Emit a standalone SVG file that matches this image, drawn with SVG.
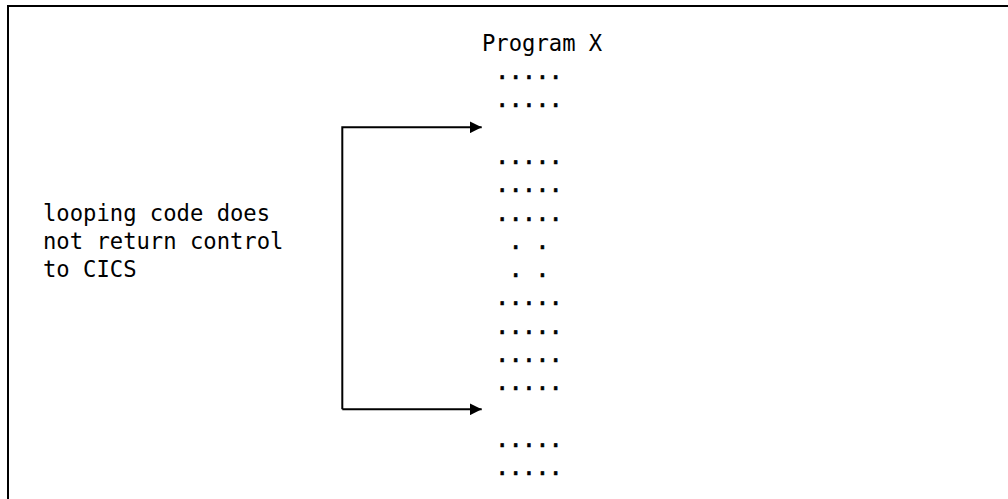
<svg xmlns="http://www.w3.org/2000/svg" width="1008" height="499" viewBox="0 0 1008 499">
<defs>
<style>
.t{font-family:"DejaVu Sans Mono","Liberation Mono",monospace;font-size:22.2px;fill:#000}
.d{stroke:#000;stroke-width:0.7}
.ln{stroke:#000;stroke-width:2;fill:none}
</style>
<marker id="ah" markerWidth="12" markerHeight="12" refX="12" refY="6" orient="auto" markerUnits="userSpaceOnUse">
<path d="M0,0 L12,6 L0,12 Z" fill="#000"/>
</marker>
</defs>
<rect width="1008" height="499" fill="#fff"/>
<g id="frame">
<path class="ln" d="M8,510 V6 H1010"/>
</g>
<g id="program">
<text class="t" x="482" y="50.7">Program X</text>
<text class="t d" x="495.6" y="79">.....</text>
<text class="t d" x="495.6" y="107.3">.....</text>
<text class="t d" x="495.6" y="163.9">.....</text>
<text class="t d" x="495.6" y="192.2">.....</text>
<text class="t d" x="495.6" y="220.5">.....</text>
<text class="t d" x="508.95" y="248.8">. .</text>
<text class="t d" x="508.95" y="277.1">. .</text>
<text class="t d" x="495.6" y="305.4">.....</text>
<text class="t d" x="495.6" y="333.7">.....</text>
<text class="t d" x="495.6" y="362">.....</text>
<text class="t d" x="495.6" y="390.3">.....</text>
<text class="t d" x="495.6" y="446.9">.....</text>
<text class="t d" x="495.6" y="475.2">.....</text>
</g>
<g id="note">
<text class="t" x="43" y="220.5">looping code does</text>
<text class="t" x="43" y="248.8">not return control</text>
<text class="t" x="43" y="277.1">to CICS</text>
</g>
<g id="connectors">
<path class="ln" d="M342.3,409.3 V127.3 H481.7" marker-end="url(#ah)"/>
<path class="ln" d="M342.3,409.3 H481.7" marker-end="url(#ah)"/>
</g>
</svg>
